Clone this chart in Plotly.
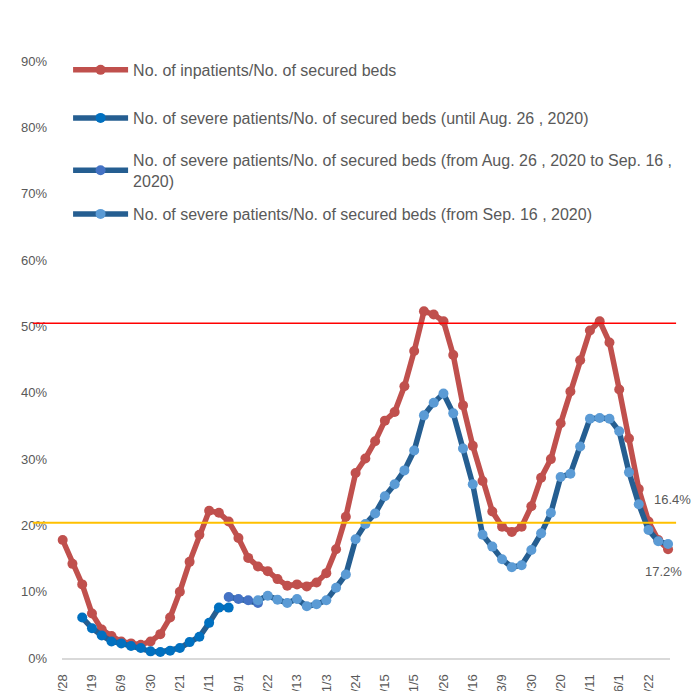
import plotly.graph_objects as go

DATES = [
    "2020/4/28", "2020/5/5", "2020/5/12", "2020/5/19", "2020/5/26", "2020/6/2", "2020/6/9",
    "2020/6/16", "2020/6/23", "2020/6/30", "2020/7/7", "2020/7/14", "2020/7/21", "2020/7/28",
    "2020/8/4", "2020/8/11", "2020/8/18", "2020/8/25", "2020/9/1", "2020/9/8", "2020/9/15",
    "2020/9/22", "2020/9/29", "2020/10/6", "2020/10/13", "2020/10/20", "2020/10/27", "2020/11/3",
    "2020/11/10", "2020/11/17", "2020/11/24", "2020/12/1", "2020/12/8", "2020/12/15", "2020/12/22",
    "2020/12/29", "2021/1/5", "2021/1/12", "2021/1/19", "2021/1/26", "2021/2/2", "2021/2/9",
    "2021/2/16", "2021/2/23", "2021/3/2", "2021/3/9", "2021/3/16", "2021/3/23", "2021/3/30",
    "2021/4/6", "2021/4/13", "2021/4/20", "2021/4/27", "2021/5/4", "2021/5/11", "2021/5/18",
    "2021/5/25", "2021/6/1", "2021/6/8", "2021/6/15", "2021/6/22", "2021/6/29", "2021/7/6",
]

TICK_LABELS = [
    "2020/4/28", "2020/5/19", "2020/6/9", "2020/6/30", "2020/7/21", "2020/8/11", "2020/9/1",
    "2020/9/22", "2020/10/13", "2020/11/3", "2020/11/24", "2020/12/15", "2021/1/5", "2021/1/26",
    "2021/2/16", "2021/3/9", "2021/3/30", "2021/4/20", "2021/5/11", "2021/6/1", "2021/6/22",
]

# % values
INPATIENTS = [
    17.8, 14.2, 11.1, 6.7, 4.3, 3.3, 2.5, 2.2, 2.0, 2.5, 3.6, 6.1, 10.0, 14.5, 18.6, 22.2,
    21.9, 20.6, 18.1, 15.1, 13.8, 13.1, 11.9, 10.9, 11.1, 10.8, 11.4, 12.8, 16.4, 21.3, 27.9,
    30.1, 32.7, 35.8, 37.1, 41.0, 46.3, 52.3, 51.8, 50.8, 45.7, 38.1, 32.0, 26.7, 22.1, 19.8,
    19.0, 19.8, 22.9, 27.2, 30.0, 35.4, 40.2, 44.9, 49.4, 50.8, 47.6, 40.5, 33.1, 25.5, 20.6,
    17.8, 16.4,
]

SEVERE_UNTIL_AUG26 = [
    None, None, 6.1, 4.5, 3.4, 2.5, 2.2, 1.8, 1.5, 1.0, 0.9, 1.1, 1.5, 2.4, 3.2, 5.3, 7.6, 7.6,
] + [None] * 45

SEVERE_AUG26_SEP16 = [None] * 17 + [9.2, 8.9, 8.7, 8.3] + [None] * 42

SEVERE_FROM_SEP16 = [None] * 20 + [
    8.7, 9.4, 8.8, 8.3, 8.9, 7.8, 8.1, 8.7, 10.6, 12.6, 17.9, 20.2, 21.8, 24.4, 26.2, 28.3,
    31.3, 36.6, 38.5, 39.9, 36.9, 31.6, 26.2, 18.6, 16.8, 14.9, 13.7, 14.0, 16.3, 18.8, 21.9,
    27.3, 27.8, 31.9, 36.1, 36.2, 36.1, 34.2, 28.0, 23.2, 19.3, 17.6, 17.2,
]

NAMES = [
    "No. of inpatients/No. of secured beds",
    "No. of severe patients/No. of secured beds (until Aug. 26 , 2020)",
    "No. of severe patients/No. of secured beds (from Aug. 26 , 2020 to Sep. 16 ,<br>2020)",
    "No. of severe patients/No. of secured beds (from Sep. 16 , 2020)",
]

LAST_LABELS = ["16.4%", "17.2%"]
THRESHOLDS = [50.5, 20.4]


def pct(vals):
    return [None if v is None else v / 100 for v in vals]


FONT = "Liberation Sans, Arial, sans-serif"
GREY = "#595959"

fig = go.Figure()
series = [
    (INPATIENTS, "#C0504D", "#C0504D"),
    (SEVERE_UNTIL_AUG26, "#255E91", "#0070C0"),
    (SEVERE_AUG26_SEP16, "#255E91", "#4472C4"),
    (SEVERE_FROM_SEP16, "#255E91", "#5B9BD5"),
]
LEGEND_IDS = ["legend", "legend2", "legend3", "legend4"]
LEGEND_Y = [0.9195, 0.8465, 0.7827, 0.7006]
for i, ((vals, lc, mc), name) in enumerate(zip(series, NAMES)):
    fig.add_trace(go.Scatter(
        x=DATES, y=pct(vals), name=name, mode="lines+markers",
        line=dict(color=lc, width=5.5),
        marker=dict(color=mc, size=10, line=dict(width=0)),
        connectgaps=False, cliponaxis=False, legend=LEGEND_IDS[i],
    ))

# threshold lines
fig.add_shape(type="line", xref="paper", yref="y", x0=-0.048, x1=1.01,
              y0=THRESHOLDS[0] / 100, y1=THRESHOLDS[0] / 100,
              line=dict(color="#FF0000", width=1.5))
fig.add_shape(type="line", xref="paper", yref="y", x0=-0.048, x1=1.01,
              y0=THRESHOLDS[1] / 100, y1=THRESHOLDS[1] / 100,
              line=dict(color="#FFC000", width=2))

# end labels
fig.add_annotation(x=DATES[-1], y=INPATIENTS[-1] / 100, text=LAST_LABELS[0], showarrow=False,
                   xshift=4, yshift=50, font=dict(family=FONT, size=13, color=GREY))
fig.add_annotation(x=DATES[-1], y=SEVERE_FROM_SEP16[-1] / 100, text=LAST_LABELS[1],
                   showarrow=False, xshift=-5, yshift=-28,
                   font=dict(family=FONT, size=13, color=GREY))

legend_common = dict(x=0.01, xanchor="left", yanchor="top",
                     font=dict(family=FONT, size=16, color=GREY),
                     bgcolor="rgba(0,0,0,0)", itemwidth=55)
fig.update_layout(
    width=698, height=691,
    margin=dict(l=62, r=28, t=0, b=33),
    paper_bgcolor="white", plot_bgcolor="white",
    showlegend=True,
    legend=dict(y=LEGEND_Y[0], **legend_common),
    legend2=dict(y=LEGEND_Y[1], **legend_common),
    legend3=dict(y=LEGEND_Y[2], **legend_common),
    legend4=dict(y=LEGEND_Y[3], **legend_common),
    font=dict(family=FONT, color=GREY),
)

fig.update_xaxes(
    type="category", range=[-0.07, 62.2], tickmode="array", tickvals=TICK_LABELS,
    tickangle=-90, tickfont=dict(family=FONT, size=13, color=GREY),
    showgrid=False, zeroline=False, showline=True, linecolor="#D9D9D9", linewidth=2,
    ticks="", automargin=False, ticklabelstandoff=9,
)
fig.update_yaxes(
    range=[0, 0.9925], tickvals=[0, 0.1, 0.2, 0.3, 0.4, 0.5, 0.6, 0.7, 0.8, 0.9],
    tickformat=".0%", tickfont=dict(family=FONT, size=13, color=GREY),
    showgrid=False, zeroline=False, showline=False, ticks="", ticklabelstandoff=14,
    automargin=False,
)

fig.write_html("out.html", config={"displayModeBar": False},
               post_script="document.body.style.margin='0';")
